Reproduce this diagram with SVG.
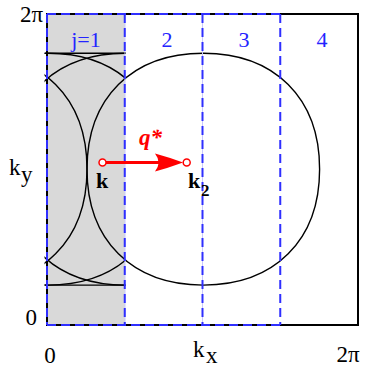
<svg xmlns="http://www.w3.org/2000/svg" width="366" height="375" viewBox="0 0 366 375">
<style>
text{font-family:'Liberation Serif','DejaVu Serif',serif}
.ax{font-size:23px;fill:#000}
.lab{font-size:22px;fill:#2424ff;text-anchor:middle}
.bk{font-weight:bold;fill:#000}
.q{font-weight:bold;font-style:italic;fill:#f00;font-size:23px}
.cv{fill:none;stroke:#000;stroke-width:1.4}
.dash{stroke:#2f2fff;stroke-width:2;stroke-dasharray:9 5;fill:none}
.faint{stroke:#c8c8ff;stroke-width:1;fill:none}
</style>
<defs>
<clipPath id="strip1"><rect x="44.5" y="0" width="81.5" height="375"/></clipPath>
</defs>
<rect width="366" height="375" fill="#fff"/>
<g id="shade"><rect x="47" y="14" width="78" height="311" fill="#d9d9d9"/></g>
<g id="contours">
<path class="cv" d="M319.6,169.2 C319.6,98.15 274.59,53.3 203.3,53.3 C132.01,53.3 87,98.15 87,169.2 C87,240.25 132.01,285.1 203.3,285.1 C274.59,285.1 319.6,240.25 319.6,169.2 Z"/>
<g clip-path="url(#strip1)">
<path class="cv" d="M241.85,169.2 C241.85,98.15 196.84,53.3 125.55,53.3 C54.26,53.3 9.25,98.15 9.25,169.2 C9.25,240.25 54.26,285.1 125.55,285.1 C196.84,285.1 241.85,240.25 241.85,169.2 Z"/>
<path class="cv" d="M164.1,169.2 C164.1,98.15 119.09,53.3 47.8,53.3 C-23.49,53.3 -68.5,98.15 -68.5,169.2 C-68.5,240.25 -23.49,285.1 47.8,285.1 C119.09,285.1 164.1,240.25 164.1,169.2 Z"/>
<path class="cv" d="M87,169.2 C87,98.15 41.99,53.3 -29.3,53.3 C-100.59,53.3 -145.6,98.15 -145.6,169.2 C-145.6,240.25 -100.59,285.1 -29.3,285.1 C41.99,285.1 87,240.25 87,169.2 Z"/>
<path class="cv" d="M44.5,53.3 H126 M44.5,285.1 H126"/>
</g>
</g>
<g id="frame">
<path d="M47,14 H358 V325 H47 Z" fill="none" stroke="#000" stroke-width="2"/>
</g>
<g id="strips">
<path class="faint" d="M125,14 V325 M202.5,14 V325"/>
<path class="dash" d="M47,14 H280.25 M47,325 H280.25 M47,14 V325 M124.75,14 V325 M202.5,14 V325 M280.25,14 V325"/>
<text class="lab" x="86" y="47">j=1</text>
<text class="lab" x="167" y="47">2</text>
<text class="lab" x="244" y="47">3</text>
<text class="lab" x="322" y="47">4</text>
</g>
<g id="axes">
<text class="ax" x="43" y="22" text-anchor="end">2π</text>
<text class="ax" x="37" y="325" text-anchor="end">0</text>
<text class="ax" x="50" y="363" text-anchor="middle">0</text>
<text class="ax" x="348" y="362" text-anchor="middle">2π</text>
<text class="ax" x="9" y="175" font-size="21">k</text>
<text class="ax" x="21" y="182" font-size="24">y</text>
<text class="ax" x="193" y="357" font-size="21">k</text>
<text class="ax" x="206" y="363" font-size="24">x</text>
</g>
<g id="connectors">
<line x1="106" y1="162.5" x2="160" y2="162.5" stroke="#f00" stroke-width="3"/>
<path d="M183,162.5 Q168,157 155,153.5 Q162,162.5 155,171.5 Q168,168 183,162.5 Z" fill="#f00"/>
<text class="q" x="139" y="145">q*</text>
</g>
<g id="node-k">
<circle cx="102.5" cy="162.5" r="3.5" fill="#fff" stroke="#f00" stroke-width="1.5"/>
<text class="bk" x="96" y="188" font-size="22">k</text>
</g>
<g id="node-k2">
<circle cx="186.7" cy="162.5" r="3.5" fill="#fff" stroke="#f00" stroke-width="1.5"/>
<text class="bk" x="188" y="188" font-size="22">k</text>
<text class="bk" x="201" y="196" font-size="17">2</text>
</g>
</svg>
